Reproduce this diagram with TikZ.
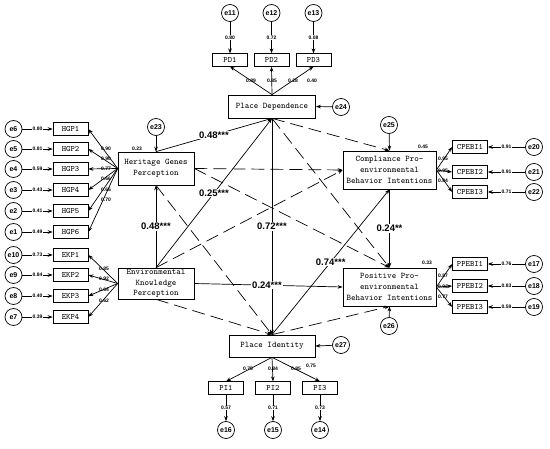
\documentclass[tikz,border=0pt]{standalone}
\usepackage{fontspec}
\newfontfamily\lsans{Liberation Sans}
\usetikzlibrary{arrows.meta}
\begin{document}
\begin{tikzpicture}[x=1pt,y=-1pt,
  every path/.style={line width=0.7pt},
  arr/.style={-{Stealth[length=5pt,width=3.6pt]}},
  dsh/.style={arr,dash pattern=on 13pt off 6pt},
  big/.style={draw,align=center,inner sep=0pt,font=\ttfamily\fontsize{8.6}{10.5}\selectfont},
  ind/.style={draw,minimum width=35,minimum height=12.5,inner sep=0pt,font=\ttfamily\fontsize{8.2}{9}\selectfont},
  err/.style={circle,draw,minimum size=17,inner sep=0pt,font=\lsans\bfseries\fontsize{7}{7}\selectfont},
  sm/.style={inner sep=0.4pt,font=\lsans\bfseries\fontsize{5}{5}\selectfont},
  smf/.style={sm,fill=white},
  coef/.style={fill=white,inner sep=0.8pt,font=\lsans\bfseries\fontsize{9.5}{9.5}\selectfont}]
\useasboundingbox (0,0) rectangle (550,449);

% latent boxes
\node[big,minimum width=87,minimum height=23] (PD) at (272,106.5) {Place Dependence};
\node[big,minimum width=76,minimum height=33] (HGP) at (156,168.5) {Heritage Genes\\Perception};
\node[big,minimum width=76,minimum height=31] (EKP) at (156,283.5) {Environmental\\Knowledge\\Perception};
\node[big,minimum width=93,minimum height=38,font=\ttfamily\fontsize{8.6}{11}\selectfont] (CP) at (389.5,170) {Compliance Pro-\\environmental\\Behavior Intentions};
\node[big,minimum width=93,minimum height=38,font=\ttfamily\fontsize{8.6}{11}\selectfont] (PP) at (389.5,287) {Positive Pro-\\environmental\\Behavior Intentions};
\node[big,minimum width=86,minimum height=22] (PI) at (272,346) {Place Identity};

% structural errors
\node[err] (e23) at (156,127) {e23};
\node[err] (e24) at (341,107) {e24};
\node[err] (e25) at (389,125) {e25};
\node[err] (e26) at (389,326) {e26};
\node[err] (e27) at (341,345) {e27};
\draw[arr] (e23) -- (HGP.north);
\draw[arr] (e24) -- (PD.east);
\draw[arr] (e25) -- (CP.north);
\draw[arr] (e26) -- (PP.south);
\draw[arr] (e27) -- (PI.east);

% R2 labels
\node[sm] at (137,149) {0.23};
\node[sm] at (423,147) {0.45};
\node[sm] at (427,263) {0.33};

% dashed (non significant) paths
\draw[dsh] (HGP.east) -- (CP.west);
\draw[dsh] (HGP.east) -- (PP.north);
\draw[dsh] (HGP.south) -- (PI.north);
\draw[dsh] (EKP.north) -- (CP.west);
\draw[dsh] (EKP.south) -- (PI.north);
\draw[dsh] (PD.south) -- (CP.north);
\draw[dsh] (PD.south) -- (PP.north);
\draw[dsh] (PI.north) -- (PP.south);

% significant paths
\draw[arr] (HGP.north) -- node[coef,pos=0.5] {0.48***} (PD.south);
\draw[arr] (EKP.north) -- node[coef,pos=0.5] {0.25***} (PD.south);
\draw[arr] (EKP.north) -- node[coef,pos=0.5] {0.48***} (HGP.south);
\draw[arr] (PD.south) -- node[coef,pos=0.5] {0.72***} (PI.north);
\draw[arr] (PI.north) -- node[coef,pos=0.5] {0.74***} (CP.south);
\draw[arr] (CP.south) -- node[coef,pos=0.5] {0.24**} (PP.north);
\draw[arr] (EKP.east) -- node[coef,pos=0.49] {0.24***} (PP.west);

% Place Dependence indicators
\foreach \n/\x/\ev/\ee/\lx/\ll in {1/230/11/0.80/251/0.89,2/271.5/12/0.72/272/0.85,3/313.5/13/0.08/293/0.28}{
  \node[ind] (PD\n) at (\x,60) {PD\n};
  \node[err] (e\ev) at (\x,13) {e\ev};
  \draw[arr] (e\ev) -- node[smf] {\ee} (PD\n);
  \draw[arr] (PD.north) -- (PD\n.south);
  \node[sm] at (\lx,81) {\ll};
}
\node[sm] at (312,81) {0.40};

% Place Identity indicators
\foreach \n/\x/\ev/\ee in {1/226/16/0.57,2/273/15/0.71,3/320/14/0.73}{
  \node[ind] (PI\n) at (\x,388) {PI\n};
  \node[err] (e\ev) at (\x,430) {e\ev};
  \draw[arr] (PI\n) -- node[smf] {\ee} (e\ev);
  \draw[arr] (PI.south) -- (PI\n.north);
}
\node[sm] at (248,369) {0.75};
\node[sm] at (273,369) {0.84};
\node[sm] at (296,369) {0.85};
\node[sm] at (311,366) {0.75};

% Heritage Genes Perception indicators
\foreach \n/\y/\ev/\ee/\ly/\ll in {1/129/6/0.80/149/0.90,2/149/5/0.81/159/0.90,3/169/4/0.59/169/0.77,4/190/3/0.43/179/0.66,5/211/2/0.41/190/0.66,6/232/1/0.49/200/0.70}{
  \node[ind] (HGP\n) at (70.5,\y) {HGP\n};
  \node[err] (e\ev) at (13.5,\y) {e\ev};
  \draw[arr] (e\ev) -- node[smf] {\ee} (HGP\n);
  \draw[arr] (HGP.west) -- (HGP\n.east);
  \node[sm] at (106,\ly) {\ll};
}

% Environmental Knowledge Perception indicators
\foreach \n/\y/\ev/\ee/\ly/\ll in {1/255/10/0.73/269/0.85,2/275/9/0.84/279/0.92,3/296/8/0.40/290/0.64,4/317/7/0.39/301/0.62}{
  \node[ind] (EKP\n) at (70.5,\y) {EKP\n};
  \node[err] (e\ev) at (13.5,\y) {e\ev};
  \draw[arr] (e\ev) -- node[smf] {\ee} (EKP\n);
  \draw[arr] (EKP.west) -- (EKP\n.east);
  \node[sm] at (104,\ly) {\ll};
}

% Compliance indicators
\foreach \n/\y/\ev/\ee/\ly/\ll in {1/147/20/0.91/159/0.95,2/172/21/0.91/171/0.95,3/192/22/0.71/181/0.84}{
  \node[ind] (CPEBI\n) at (470,\y) {CPEBI\n};
  \node[err] (e\ev) at (534,\y) {e\ev};
  \draw[arr] (e\ev) -- node[smf] {\ee} (CPEBI\n);
  \draw[arr] (CP.east) -- (CPEBI\n.west);
  \node[sm] at (443,\ly) {\ll};
}

% Positive indicators
\foreach \n/\y/\ev/\ee/\ly/\ll in {1/264/17/0.76/276/0.87,2/286/18/0.83/287/0.93,3/307/19/0.59/297/0.77}{
  \node[ind] (PPEBI\n) at (470,\y) {PPEBI\n};
  \node[err] (e\ev) at (534,\y) {e\ev};
  \draw[arr] (e\ev) -- node[smf] {\ee} (PPEBI\n);
  \draw[arr] (PP.east) -- (PPEBI\n.west);
  \node[sm] at (443,\ly) {\ll};
}
\end{tikzpicture}
\end{document}
